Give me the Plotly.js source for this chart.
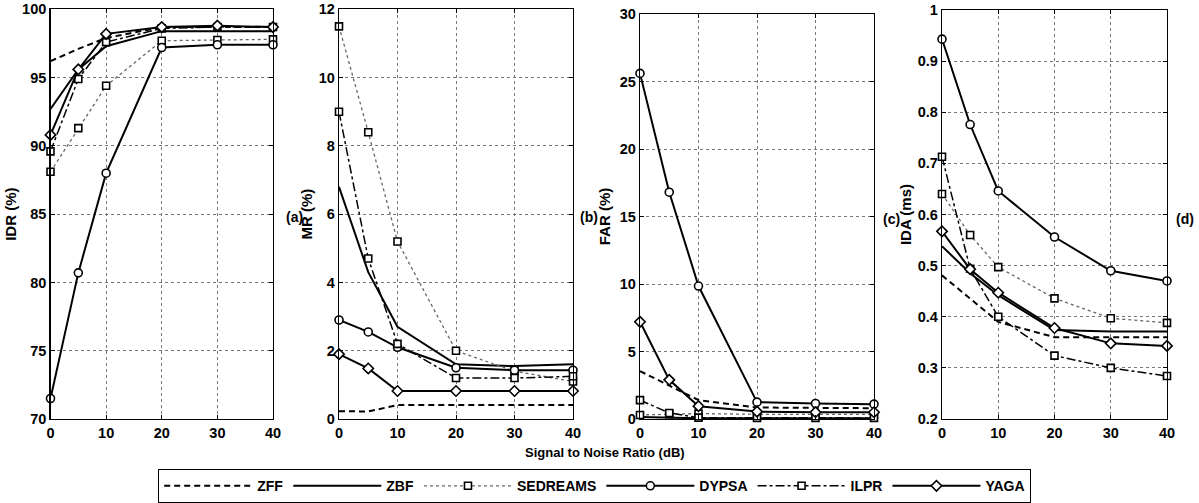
<!DOCTYPE html>
<html><head><meta charset="utf-8">
<script src="https://cdn.plot.ly/plotly-3.0.1.min.js"></script>
<style>html,body{margin:0;padding:0;background:#fff}#chart{width:1199px;height:503px}</style>
</head><body><div id="chart"></div>
<script>
// ---- data ----
const snr = [0, 5, 10, 20, 30, 40];
const methods = ['ZFF', 'ZBF', 'SEDREAMS', 'DYPSA', 'ILPR', 'YAGA'];
const xTicks = [0, 10, 20, 30, 40];

// (a) IDR (%)
const idrZFF      = [96.2, 97.1, 97.9, 98.7, 98.7, 98.7];
const idrZBF      = [92.7, 95.6, 97.3, 98.4, 98.4, 98.4];
const idrSEDREAMS = [88.1, 91.3, 94.4, 97.7, 97.75, 97.8];
const idrDYPSA    = [71.5, 80.7, 88.0, 97.2, 97.4, 97.4];
const idrILPR     = [89.6, 94.9, 97.6, 98.6, 98.7, 98.7];
const idrYAGA     = [90.8, 95.6, 98.2, 98.7, 98.8, 98.7];

// (b) MR (%)
const mrZFF      = [0.23, 0.22, 0.41, 0.41, 0.41, 0.41];
const mrZBF      = [6.8, 4.3, 2.7, 1.6, 1.55, 1.6];
const mrSEDREAMS = [11.5, 8.4, 5.2, 2.0, 1.4, 1.1];
const mrDYPSA    = [2.9, 2.55, 2.1, 1.5, 1.43, 1.43];
const mrILPR     = [9.0, 4.7, 2.2, 1.2, 1.2, 1.25];
const mrYAGA     = [1.9, 1.48, 0.82, 0.82, 0.82, 0.82];

// (c) FAR (%)
const farZFF      = [3.55, 2.5, 1.4, 0.85, 0.82, 0.8];
const farZBF      = [0.15, 0.1, 0.05, 0.05, 0.05, 0.05];
const farSEDREAMS = [0.3, 0.35, 0.4, 0.35, 0.35, 0.35];
const farDYPSA    = [25.6, 16.8, 9.85, 1.25, 1.15, 1.1];
const farILPR     = [1.4, 0.45, 0.1, 0.08, 0.08, 0.08];
const farYAGA     = [7.2, 2.9, 0.95, 0.55, 0.5, 0.5];

// (d) IDA (ms)
const idaZFF      = [0.481, 0.436, 0.39, 0.36, 0.36, 0.36];
const idaZBF      = [0.538, 0.485, 0.442, 0.374, 0.371, 0.371];
const idaSEDREAMS = [0.64, 0.56, 0.497, 0.436, 0.397, 0.388];
const idaDYPSA    = [0.943, 0.776, 0.646, 0.556, 0.49, 0.47];
const idaILPR     = [0.713, 0.494, 0.40, 0.324, 0.30, 0.284];
const idaYAGA     = [0.567, 0.493, 0.447, 0.378, 0.348, 0.343];

const panels = [
  {label: '(a)', title: 'IDR (%)', range: [70, 100], dtick: 5,
   series: [idrZFF, idrZBF, idrSEDREAMS, idrDYPSA, idrILPR, idrYAGA]},
  {label: '(b)', title: 'MR (%)', range: [0, 12], dtick: 2,
   series: [mrZFF, mrZBF, mrSEDREAMS, mrDYPSA, mrILPR, mrYAGA]},
  {label: '(c)', title: 'FAR (%)', range: [0, 30], dtick: 5,
   series: [farZFF, farZBF, farSEDREAMS, farDYPSA, farILPR, farYAGA]},
  {label: '(d)', title: 'IDA (ms)', range: [0.2, 1], dtick: 0.1,
   series: [idaZFF, idaZBF, idaSEDREAMS, idaDYPSA, idaILPR, idaYAGA]}
];

// ---- styles ----
const styles = {
  ZFF:      {line: {color: '#000', width: 2, dash: '6px,4px'}, mode: 'lines'},
  ZBF:      {line: {color: '#000', width: 2, dash: 'solid'}, mode: 'lines'},
  SEDREAMS: {line: {color: '#666', width: 1.3, dash: 'dot'}, mode: 'lines+markers', symbol: 'square'},
  DYPSA:    {line: {color: '#000', width: 2, dash: 'solid'}, mode: 'lines+markers', symbol: 'circle'},
  ILPR:     {line: {color: '#000', width: 1.5, dash: 'dashdot'}, mode: 'lines+markers', symbol: 'square'},
  YAGA:     {line: {color: '#000', width: 2, dash: 'solid'}, mode: 'lines+markers', symbol: 'diamond'}
};

const W = 1199, H = 503;
const xPix = [[50.5, 273], [339, 573], [640, 874], [942, 1167]];
const yTopPix = [9.3, 9.3, 14, 10];
const yBotPix = 419;
const titleStandoff = [1, 2, 5, 2];
const labelPos = [[294, 217], [589, 217], [891, 219], [1185, 219]];

const FONT = 'Liberation Sans, Arial, sans-serif';

const traces = [];
const layout = {
  width: W, height: H,
  margin: {l: 0, r: 0, t: 0, b: 0},
  paper_bgcolor: '#fff', plot_bgcolor: '#fff',
  showlegend: true,
  legend: {
    orientation: 'h', x: 158 / W, y: 1 - 469 / H, xanchor: 'left', yanchor: 'top',
    bordercolor: '#000', borderwidth: 1.2, bgcolor: '#fff',
    font: {family: FONT, size: 14, color: '#000', weight: 'bold'},
    itemwidth: 88, traceorder: 'normal', entrywidth: 0
  },
  annotations: [],
  font: {family: FONT, color: '#000'}
};

panels.forEach((p, i) => {
  const xa = 'xaxis' + (i ? i + 1 : '');
  const ya = 'yaxis' + (i ? i + 1 : '');
  const xr = 'x' + (i ? i + 1 : '');
  const yr = 'y' + (i ? i + 1 : '');
  layout[xa] = {
    domain: [xPix[i][0] / W, xPix[i][1] / W], anchor: yr,
    range: [0, 40], tickvals: xTicks, ticktext: xTicks.map(String),
    showgrid: true, gridcolor: '#777', griddash: 'dot', gridwidth: 1,
    zeroline: false, showline: true, linecolor: '#000', linewidth: 1.3, mirror: 'ticks',
    ticks: 'inside', ticklen: 4, tickcolor: '#000', automargin: false,
    tickfont: {family: FONT, size: 14.5, color: '#000', weight: 'bold'}
  };
  layout[ya] = {
    domain: [1 - yBotPix / H, 1 - yTopPix[i] / H], anchor: xr,
    range: p.range, dtick: p.dtick, tick0: p.range[0],
    showgrid: true, gridcolor: '#777', griddash: 'dot', gridwidth: 1,
    zeroline: false, showline: true, linecolor: '#000', linewidth: 1.3, mirror: 'ticks',
    ticks: 'inside', ticklen: 4, tickcolor: '#000', automargin: false,
    ticklabelstandoff: 0,
    tickfont: {family: FONT, size: 14.5, color: '#000', weight: 'bold'},
    title: {text: p.title, standoff: titleStandoff[i],
            font: {family: FONT, size: 15, color: '#000', weight: 'bold'}}
  };
  methods.forEach((m, k) => {
    const s = styles[m];
    const t = {
      type: 'scatter', x: snr, y: p.series[k], xaxis: xr, yaxis: yr,
      name: m, legendgroup: m, showlegend: i === 0,
      mode: s.mode, line: s.line, cliponaxis: false
    };
    if (s.symbol) {
      t.marker = {symbol: s.symbol, size: s.symbol === 'square' ? 7 : 8, color: '#fff',
                  line: {color: '#000', width: 1.6}};
    }
    traces.push(t);
  });
  layout.annotations.push({
    text: p.label, xref: 'paper', yref: 'paper',
    x: labelPos[i][0] / W, y: 1 - labelPos[i][1] / H,
    xanchor: 'center', yanchor: 'middle', showarrow: false,
    font: {family: FONT, size: 14, color: '#000', weight: 'bold'}
  });
});

layout.annotations.push({
  text: 'Signal to Noise Ratio (dB)', xref: 'paper', yref: 'paper',
  x: 605 / W, y: 1 - 452 / H, xanchor: 'center', yanchor: 'middle', showarrow: false,
  font: {family: FONT, size: 13, color: '#000', weight: 'bold'}
});

Plotly.newPlot('chart', traces, layout, {staticPlot: true, displayModeBar: false});
</script>
</body></html>
